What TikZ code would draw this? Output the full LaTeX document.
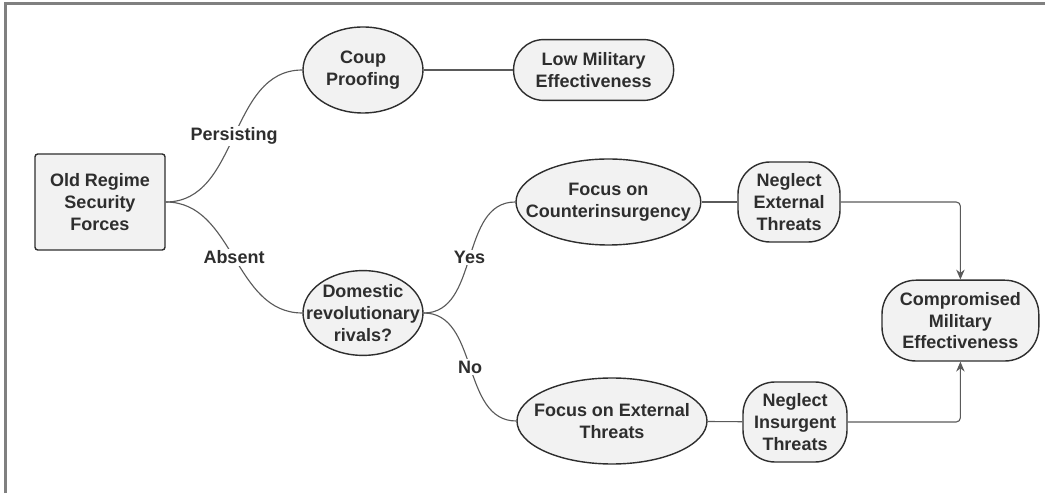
\documentclass[tikz,border=0pt]{standalone}
\usepackage{fontspec}
\setmainfont{Liberation Sans}
\usetikzlibrary{shapes.geometric,arrows.meta}
\definecolor{boxfill}{HTML}{F2F2F2}
\definecolor{boxline}{HTML}{2E2E2E}
\definecolor{wire}{HTML}{5A5A5A}
\definecolor{frame}{HTML}{808080}
\tikzset{
	txt/.style={font=\fontsize{12.8}{15.6}\selectfont\bfseries,text=boxline,align=center},
	bubble/.style={txt,ellipse,draw=boxline,fill=boxfill,line width=1pt,inner sep=-2cm},
	pill/.style={txt,rectangle,draw=boxline,fill=boxfill,line width=1pt,inner sep=0pt},
	lab/.style={txt,fill=white,inner sep=1pt,midway}
}
\begin{document}
\begin{tikzpicture}[>={Stealth[length=7pt,width=6pt]},line width=0.8pt]
	\useasboundingbox (0,0) rectangle (26.125,12.325);
	\draw[frame,line width=1.5pt] (0.1375,0) -- (0.1375,12.2375) -- (26.125,12.2375);
	% nodes
	\node[pill,rounded corners=2pt,minimum width=3.25cm,minimum height=2.4cm] (old) at (2.5,7.275) {Old Regime\\Security\\Forces};
	\node[bubble,minimum width=3cm,minimum height=2.15cm] (coup) at (9.075,10.575) {Coup\\Proofing};
	\node[pill,rounded corners=0.75cm,minimum width=4cm,minimum height=1.52cm] (low) at (14.84,10.575) {Low Military\\Effectiveness};
	\node[bubble,minimum width=3cm,minimum height=2.12cm] (dom) at (9.075,4.5) {Domestic\\revolutionary\\rivals?};
	\node[bubble,minimum width=4.62cm,minimum height=2.15cm] (fcoin) at (15.21,7.275) {Focus on\\Counterinsurgency};
	\node[bubble,minimum width=4.75cm,minimum height=2.15cm] (fext) at (15.3,1.8) {Focus on External\\Threats};
	\node[pill,rounded corners=0.8cm,minimum width=2.55cm,minimum height=2cm] (negext) at (19.725,7.275) {Neglect\\External\\Threats};
	\node[pill,rounded corners=0.8cm,minimum width=2.6cm,minimum height=2cm] (negins) at (19.875,1.775) {Neglect\\Insurgent\\Threats};
	\node[pill,rounded corners=0.85cm,minimum width=3.92cm,minimum height=2.02cm] (comp) at (24.01,4.31) {Compromised\\Military\\Effectiveness};
	% branches
	\draw[wire] (old.east) to[out=0,in=180] node[lab] {Persisting} (coup.west);
	\draw[wire] (old.east) to[out=0,in=180] node[lab] {Absent} (dom.west);
	\draw[wire] (dom.east) to[out=0,in=180] node[lab] {Yes} (fcoin.west);
	\draw[wire] (dom.east) to[out=0,in=180] node[lab] {No} (fext.west);
	\draw[wire] (coup) -- (low);
	\draw[wire] (fcoin) -- (negext);
	\draw[wire] (fext) -- (negins);
	\draw[wire,->,rounded corners=3pt] (negext) -| (comp);
	\draw[wire,->,rounded corners=3pt] (negins) -| (comp);
\end{tikzpicture}
\end{document}
